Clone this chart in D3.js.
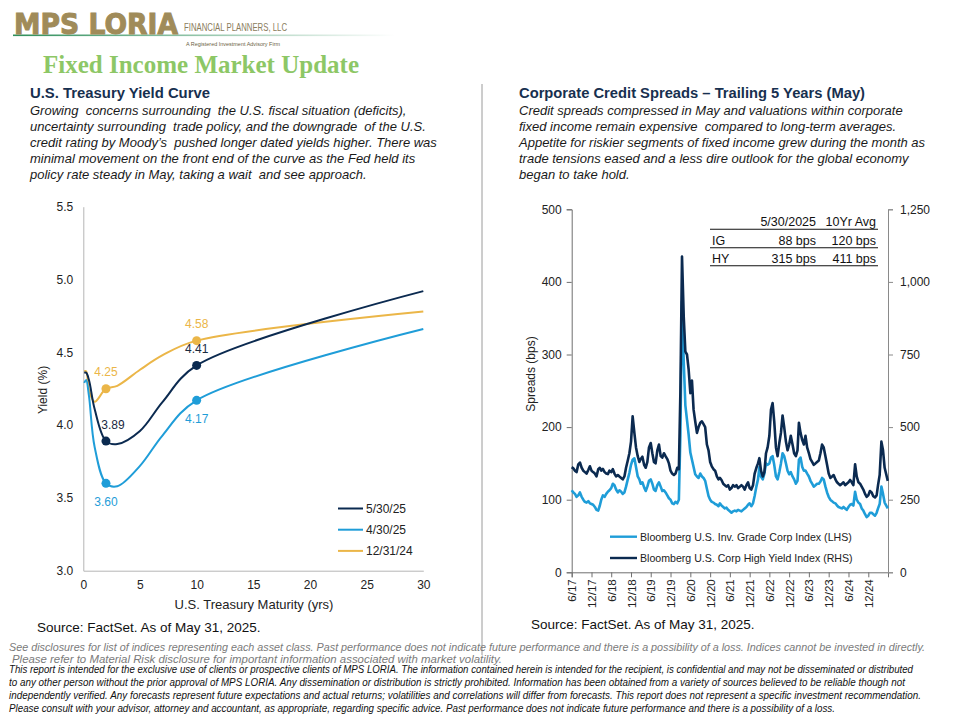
<!DOCTYPE html>
<html>
<head>
<meta charset="utf-8">
<script src="https://cdn.jsdelivr.net/npm/d3@7"></script>
<style>
  body { margin: 0; background: #fff; }
  svg { display: block; }
</style>
</head>
<body>
<script>
// ---- yield curve data (U.S. Treasury, %) ----
var maturities = [1/12, 0.25, 0.5, 1, 2, 3, 5, 7, 10, 30];
var curveNames = ["5/30/25", "4/30/25", "12/31/24"];
var yieldsMay25 = [4.36, 4.36, 4.31, 4.11, 3.89, 3.87, 3.96, 4.16, 4.41, 4.92];
var yieldsApr25 = [4.29, 4.31, 4.20, 3.85, 3.60, 3.58, 3.72, 3.93, 4.17, 4.66];
var yieldsDec24 = [4.37, 4.37, 4.24, 4.16, 4.25, 4.27, 4.38, 4.48, 4.58, 4.78];
var curveColors = ["#0b2a50", "#1f9dd8", "#ebb648"];
var labelledMaturities = [2, 10];
var yieldTicks = [3.0, 3.5, 4.0, 4.5, 5.0, 5.5];
var maturityTicks = [0, 5, 10, 15, 20, 25, 30];

// ---- credit spreads, twice a month from 6/2017 (1st and 16th), last = 5/30/2025 ----
var spreadStart = new Date(2017, 5, 1);
var spreadEnd = new Date(2025, 4, 30);
var igSpreads = [
  113,110, 108,104, 106,110, 104,100, 97,96, 98,95, 94,93,
  90,86, 85,92, 100,106, 104,108, 111,113, 116,122, 120,114, 110,113, 111,108, 110,118, 128,137, 148,155,
  157,145, 132,128, 122,124, 117,112, 118,126, 128,122, 114,112, 120,124, 118,112, 113,110, 106,102, 100,95,
  94,97, 95,100, 190,373, 290,230, 210,190, 165,155, 145,135, 132,130, 136,132, 130,126, 115,105, 100,97,
  96,94, 93,91, 95,92, 90,88, 89,86, 84,82, 84,85, 84,86, 85,84, 86,88, 90,93, 95,91,
  95,105, 118,128, 145,132, 128,136, 150,148, 150,158, 160,148, 132,128, 138,150, 164,160, 150,140, 135,138,
  132,128, 122,126, 155,158, 145,140, 140,136, 132,126, 122,118, 120,122, 122,125, 130,128, 118,110, 104,100,
  98,96, 95,92, 90,89, 88,90, 88,86, 90,93, 94,92, 111,100, 96,94, 88,85, 80,76, 78,82,
  82,80, 78,82, 88,94, 118,108, 96,88
];
var hySpreads = [
  362,358, 350,345, 372,378, 360,350, 345,340, 352,365, 350,345,
  340,330, 355,360, 350,356, 345,340, 338,350, 345,355, 340,330, 335,330, 325,320, 330,360, 385,410, 450,537,
  480,430, 400,380, 390,398, 370,360, 380,430, 445,410, 380,375, 420,440, 400,395, 410,400, 390,375, 350,340,
  335,340, 360,355, 620,1087, 880,760, 750,700, 617,660, 560,520, 480,500, 515,520, 510,500, 440,420, 380,365,
  355,350, 330,320, 325,318, 305,300, 295,300, 285,290, 300,295, 300,290, 295,300, 295,285, 300,310, 290,285,
  300,340, 360,375, 393,350, 330,345, 410,430, 470,560, 583,520, 430,400, 445,480, 540,500, 450,420, 440,470,
  440,410, 400,420, 515,480, 455,440, 470,430, 410,390, 380,370, 375,380, 385,410, 440,430, 400,370, 340,325,
  330,335, 320,310, 305,300, 305,310, 300,305, 310,318, 310,300, 372,330, 310,305, 295,285, 270,260, 265,280,
  275,262, 258,265, 300,335, 450,420, 360,315
];
var lhsTicks = [0, 100, 200, 300, 400, 500];
var rhsTicks = [0, 250, 500, 750, 1000, 1250];
var spreadSeries = ["Bloomberg U.S. Inv. Grade Corp Index (LHS)", "Bloomberg U.S. Corp High Yield Index (RHS)"];
var tableHead = ["", "5/30/2025", "10Yr Avg"];
var tableRows = [["IG", "88 bps", "120 bps"], ["HY", "315 bps", "411 bps"]];

var leftText = [
  "Growing  concerns surrounding  the U.S. fiscal situation (deficits),",
  "uncertainty surrounding  trade policy, and the downgrade  of the U.S.",
  "credit rating by Moody\u2019s  pushed longer dated yields higher. There was",
  "minimal movement on the front end of the curve as the Fed held its",
  "policy rate steady in May, taking a wait  and see approach."
];
var rightText = [
  "Credit spreads compressed in May and valuations within corporate",
  "fixed income remain expensive  compared to long-term averages.",
  "Appetite for riskier segments of fixed income grew during the month as",
  "trade tensions eased and a less dire outlook for the global economy",
  "began to take hold."
];
var greyNotes = [
  "See disclosures for list of indices representing each asset class. Past performance does not indicate future performance and there is a possibility of a loss. Indices cannot be invested in directly.",
  "Please refer to Material Risk disclosure for important information associated with market volatility."
];
var blackNotes = [
  "This report is intended for the exclusive use of clients or prospective clients of MPS LORIA. The information contained herein is intended for the recipient, is confidential and may not be disseminated or distributed",
  "to any other person without the prior approval of MPS LORIA. Any dissemination or distribution is strictly prohibited. Information has been obtained from a variety of sources believed to be reliable though not",
  "independently verified. Any forecasts represent future expectations and actual returns; volatilities and correlations will differ from forecasts. This report does not represent a specific investment recommendation.",
  "Please consult with your advisor, attorney and accountant, as appropriate, regarding specific advice. Past performance does not indicate future performance and there is a possibility of a loss."
];

var width = 960, height = 720;
var svg = d3.select("body").append("svg")
    .attr("width", width)
    .attr("height", height)
    .attr("font-family", "Liberation Sans, Arial, sans-serif");

// ---- header ----
var grad = svg.append("defs").append("linearGradient").attr("id", "fade");
grad.append("stop").attr("offset", "0%").attr("stop-color", "#2f8f5b");
grad.append("stop").attr("offset", "100%").attr("stop-color", "#2f8f5b").attr("stop-opacity", 0);
svg.append("rect").attr("x", 13).attr("y", 34.5).attr("width", 382).attr("height", 1.6)
    .attr("fill", "url(#fade)");
svg.append("text").attr("x", 14).attr("y", 34)
    .attr("font-family", "DejaVu Sans").attr("font-weight", "bold").attr("font-size", 29)
    .attr("textLength", 164).attr("lengthAdjust", "spacingAndGlyphs")
    .attr("stroke", "#a08b59").attr("stroke-width", 1)
    .attr("fill", "#a08b59").text("MPS LORIA");
svg.append("text").attr("x", 184).attr("y", 31)
    .attr("font-size", 10).attr("textLength", 103).attr("lengthAdjust", "spacingAndGlyphs")
    .attr("fill", "#8a7c5c").text("FINANCIAL PLANNERS, LLC");
svg.append("text").attr("x", 186).attr("y", 46)
    .attr("font-size", 5.5).attr("textLength", 94).attr("lengthAdjust", "spacingAndGlyphs")
    .attr("fill", "#6b5f45").text("A Registered Investment Advisory Firm");
svg.append("text").attr("x", 43).attr("y", 73)
    .attr("font-family", "Liberation Serif, DejaVu Serif, serif").attr("font-weight", "bold").attr("font-size", 25)
    .attr("textLength", 316).attr("lengthAdjust", "spacingAndGlyphs")
    .attr("fill", "#8dc766").text("Fixed Income Market Update");

// divider
svg.append("line").attr("x1", 482).attr("x2", 482).attr("y1", 84).attr("y2", 655)
    .attr("stroke", "#9a9a9a").attr("stroke-width", 1);

function block(x, title, lines, titleLen) {
  svg.append("text").attr("x", x).attr("y", 98)
      .attr("font-weight", "bold").attr("font-size", 14.5).attr("fill", "#17304f")
      .attr("textLength", titleLen).attr("lengthAdjust", "spacingAndGlyphs")
      .text(title);
  svg.append("g").selectAll("text").data(lines).join("text")
      .attr("x", x).attr("y", function(d, i) { return 114.5 + i * 16; })
      .attr("font-style", "italic").attr("font-size", 13).attr("fill", "#1a1a1a")
      .style("white-space", "pre")
      .text(function(d) { return d; });
}
block(30, "U.S. Treasury Yield Curve", leftText, 180);
block(519, "Corporate Credit Spreads \u2013 Trailing 5 Years (May)", rightText, 346);

// ---- left chart: yield curve ----
var yx = d3.scaleLinear().domain([0, 30]).range([83.3, 423.3]);
var yy = d3.scaleLinear().domain([3.0, 5.5]).range([570.7, 206.7]);
var curveData = [yieldsMay25, yieldsApr25, yieldsDec24];

var lg = svg.append("g");
lg.append("g").attr("transform", "translate(0,570.7)")
    .call(d3.axisBottom(yx).tickValues(maturityTicks).tickSize(0).tickPadding(10).tickFormat(d3.format("d")))
    .call(function(g) {
      g.attr("font-family", null);
      g.select(".domain").attr("stroke", "#b5b5b5");
      g.selectAll("text").attr("font-size", 12).attr("fill", "#222");
    });
lg.append("g").attr("transform", "translate(83.3,0)")
    .call(d3.axisLeft(yy).tickValues(yieldTicks).tickSize(0).tickPadding(10).tickFormat(d3.format(".1f")))
    .call(function(g) {
      g.attr("font-family", null);
      g.select(".domain").attr("stroke", "#b5b5b5");
      g.selectAll("text").attr("font-size", 12).attr("fill", "#222");
    });
lg.append("text").attr("x", 254).attr("y", 609).attr("text-anchor", "middle")
    .attr("font-size", 13).attr("fill", "#222").text("U.S. Treasury Maturity (yrs)");
lg.append("text").attr("transform", "translate(47,390) rotate(-90)").attr("text-anchor", "middle")
    .attr("font-size", 12).attr("fill", "#222").text("Yield (%)");

var yline = d3.line()
    .x(function(d, i) { return yx(maturities[i]); })
    .y(function(d) { return yy(d); })
    .curve(d3.curveCatmullRom.alpha(0.5));

// draw back to front: gold, light blue, navy
[2, 1, 0].forEach(function(k) {
  lg.append("path").datum(curveData[k])
      .attr("d", yline).attr("fill", "none")
      .attr("stroke", curveColors[k]).attr("stroke-width", 2);
});
var labelOffset = [-17, 18, -17];
[2, 1, 0].forEach(function(k) {
  labelledMaturities.forEach(function(m) {
    var i = maturities.indexOf(m);
    var v = curveData[k][i];
    lg.append("circle").attr("cx", yx(m)).attr("cy", yy(v)).attr("r", 4.5)
        .attr("fill", curveColors[k]);
    var dx = (k === 0 && m === 2) ? 7 : 0;
    lg.append("text").attr("x", yx(m) + dx).attr("y", yy(v) + labelOffset[k] + 4.5)
        .attr("text-anchor", "middle").attr("font-size", 12)
        .attr("fill", k === 0 ? "#1a2a3f" : curveColors[k])
        .text(d3.format(".2f")(v));
  });
});

// legend
var leg = lg.append("g").selectAll("g").data(curveNames).join("g")
    .attr("transform", function(d, i) { return "translate(338," + (508.5 + i * 21.2) + ")"; });
leg.append("line").attr("x1", 0).attr("x2", 25)
    .attr("stroke", function(d, i) { return curveColors[i]; }).attr("stroke-width", 2);
leg.append("text").attr("x", 28).attr("y", 4.3).attr("font-size", 12).attr("fill", "#222")
    .text(function(d) { return d; });

svg.append("text").attr("x", 37).attr("y", 632).attr("font-size", 13.5).attr("fill", "#111")
    .text("Source: FactSet. As of May 31, 2025.");

// ---- right chart: credit spreads ----
function spreadDate(i, n) {
  if (i === n - 1) return spreadEnd;
  return new Date(spreadStart.getFullYear(), spreadStart.getMonth() + Math.floor(i / 2), i % 2 ? 16 : 1);
}
var sx = d3.scaleTime().domain([spreadStart, new Date(2025, 5, 1)]).range([571.7, 888]);
var sl = d3.scaleLinear().domain([0, 500]).range([572.3, 209.3]);
var sr = d3.scaleLinear().domain([0, 1250]).range([572.3, 209.3]);

var rg = svg.append("g");
var xTicks = d3.range(16).map(function(i) { return d3.timeMonth.offset(spreadStart, 6 * i); });
rg.append("g").attr("transform", "translate(0,572.3)")
    .call(d3.axisBottom(sx).tickValues(xTicks).tickSize(5).tickPadding(3)
      .tickFormat(function(d) { return (d.getMonth() + 1) + "/" + d3.timeFormat("%y")(d); }))
    .call(function(g) {
      g.attr("font-family", null);
      g.selectAll("line, .domain").attr("stroke", "#6f6f6f");
      g.selectAll("text").attr("font-size", 11.5).attr("fill", "#222")
        .attr("text-anchor", "end").attr("dy", "0.35em")
        .attr("transform", "translate(0,3) rotate(-90)").attr("x", -4).attr("y", 0);
    });
rg.append("g").attr("transform", "translate(571.7,0)")
    .call(d3.axisLeft(sl).tickValues(lhsTicks).tickSize(5).tickPadding(5))
    .call(function(g) {
      g.attr("font-family", null);
      g.selectAll("line, .domain").attr("stroke", "#6f6f6f");
      g.selectAll("text").attr("font-size", 12).attr("fill", "#222");
    });
rg.append("g").attr("transform", "translate(888,0)")
    .call(d3.axisRight(sr).tickValues(rhsTicks).tickSize(5).tickPadding(7).tickFormat(d3.format(",")))
    .call(function(g) {
      g.attr("font-family", null);
      g.selectAll("line, .domain").attr("stroke", "#8a8a8a");
      g.selectAll("text").attr("font-size", 12).attr("fill", "#222");
    });
rg.append("text").attr("transform", "translate(535,374) rotate(-90)").attr("text-anchor", "middle")
    .attr("font-size", 12).attr("fill", "#222").text("Spreads (bps)");

var igLine = d3.line()
    .x(function(d, i) { return sx(spreadDate(i, igSpreads.length)); })
    .y(function(d) { return sl(d); });
var hyLine = d3.line()
    .x(function(d, i) { return sx(spreadDate(i, hySpreads.length)); })
    .y(function(d) { return sr(d); });
rg.append("path").datum(igSpreads).attr("d", igLine).attr("fill", "none")
    .attr("stroke", "#1f9dd8").attr("stroke-width", 2.6).attr("stroke-linejoin", "round");
rg.append("path").datum(hySpreads).attr("d", hyLine).attr("fill", "none")
    .attr("stroke", "#0b2a50").attr("stroke-width", 2.6).attr("stroke-linejoin", "round");

// legend
var sleg = rg.append("g").selectAll("g").data(spreadSeries).join("g")
    .attr("transform", function(d, i) { return "translate(610," + (536.7 + i * 21.3) + ")"; });
sleg.append("line").attr("x1", 0).attr("x2", 27)
    .attr("stroke", function(d, i) { return i ? "#0b2a50" : "#1f9dd8"; }).attr("stroke-width", 2.4);
sleg.append("text").attr("x", 30).attr("y", 3.8).attr("font-size", 10.6).attr("fill", "#222")
    .text(function(d) { return d; });

// table
var colX = [712, 816, 876];
var rowY = [226, 244.5, 262.5];
var table = rg.append("g");
[tableHead].concat(tableRows).forEach(function(row, r) {
  row.forEach(function(cell, c) {
    table.append("text").attr("x", colX[c]).attr("y", rowY[r])
        .attr("text-anchor", c === 0 ? "start" : "end")
        .attr("font-size", 12.5).attr("fill", "#111").text(cell);
  });
});
[229.3, 247.7, 265.7].forEach(function(y) {
  table.append("line").attr("x1", 710).attr("x2", 878).attr("y1", y).attr("y2", y)
      .attr("stroke", "#111").attr("stroke-width", 1.1);
});

svg.append("text").attr("x", 531).attr("y", 629).attr("font-size", 13.5).attr("fill", "#111")
    .text("Source: FactSet. As of May 31, 2025.");

// ---- footer (condensed italic) ----
svg.append("g").selectAll("text").data(greyNotes).join("text")
    .attr("x", function(d, i) { return i ? 12 : 9; })
    .attr("y", function(d, i) { return 651 + i * 12; })
    .attr("font-style", "italic").attr("font-size", 11)
    .attr("textLength", function(d, i) { return i ? 490 : 916; }).attr("lengthAdjust", "spacingAndGlyphs")
    .attr("fill", "#7a7a7a").text(function(d) { return d; });
var blackLen = [904, 896, 912, 826];
svg.append("g").selectAll("text").data(blackNotes).join("text")
    .attr("x", 9)
    .attr("y", function(d, i) { return 672.5 + i * 13; })
    .attr("font-style", "italic").attr("font-size", 10.2)
    .attr("textLength", function(d, i) { return blackLen[i]; }).attr("lengthAdjust", "spacingAndGlyphs")
    .attr("fill", "#111").text(function(d) { return d; });
</script>
</body>
</html>
